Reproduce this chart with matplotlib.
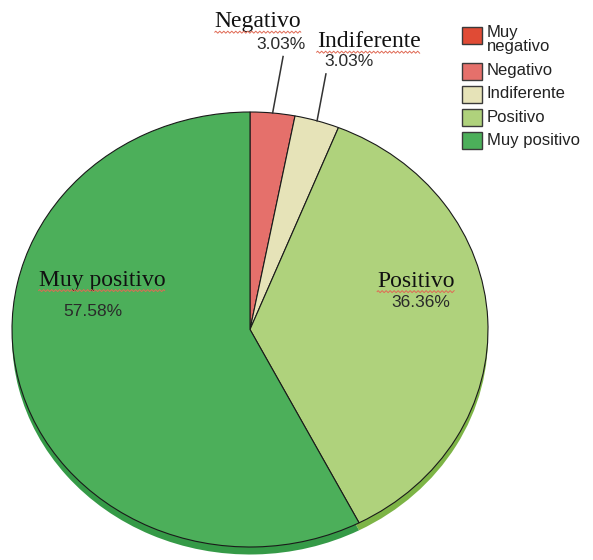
import numpy as np
import matplotlib
matplotlib.use("Agg")
import matplotlib.pyplot as plt
from matplotlib.patches import Rectangle
from matplotlib.transforms import Affine2D

# ---- data ----
categories = ["Muy negativo", "Negativo", "Indiferente", "Positivo", "Muy positivo"]
legend_labels = ["Muy\nnegativo", "Negativo", "Indiferente", "Positivo", "Muy positivo"]
counts = [0, 1, 1, 12, 19]
pct_labels = ["0.00%", "3.03%", "3.03%", "36.36%", "57.58%"]

# ---- styles ----
colors = ['#E04B35', '#E5706B', '#E6E3B8', '#AFD27C', '#4CAF5A']
side_colors = ['#B03A28', '#B85752', '#B9B690', '#7DB446', '#359A47']

W, H = 593, 560
fig = plt.figure(figsize=(W / 100, H / 100), dpi=100)
cx, cy, rx, ry = 250, 329.5, 238, 217.5
ax = fig.add_axes([(cx - rx) / W, (H - cy - ry) / H, 2 * rx / W, 2 * ry / H])
depth = 7.5 / ry

side, _ = ax.pie(counts, colors=side_colors, startangle=90, counterclock=False,
                 center=(0, -depth), wedgeprops=dict(linewidth=0))
wedges, _ = ax.pie(counts, colors=colors, startangle=90, counterclock=False,
                   wedgeprops=dict(edgecolor='#1a1a1a', linewidth=0.8))
for w in side + wedges:
    w.set_clip_on(False)
ax.set_aspect('auto')
ax.set_xlim(-1, 1)
ax.set_ylim(-1, 1)
ax.axis('off')

# label layout (data coords): name (x, baseline y), pct (x, center y), leader end
name_pos = {1: (0.034, 1.39), 2: (0.498, 1.298), 3: (0.697, 0.197), 4: (-0.622, 0.202)}
pct_pos = {1: (0.13, 1.31), 2: (0.416, 1.232), 3: (0.716, 0.124), 4: (-0.662, 0.083)}
leader_end = {1: (0.139, 1.255), 2: (0.319, 1.175)}

serif = ['Liberation Serif', 'DejaVu Serif']
sans = ['Liberation Sans', 'DejaVu Sans']
name_texts = []
for i, w in enumerate(wedges):
    if counts[i] == 0:
        continue
    nx, ny = name_pos[i]
    t = ax.text(nx, ny, categories[i], ha='center', va='baseline', fontsize=17,
                family=serif, color='#111111', clip_on=False)
    name_texts.append(t)
    px, py = pct_pos[i]
    ax.text(px, py, pct_labels[i], ha='center', va='center', fontsize=12.5,
            family=sans, color='#2a2a2a', clip_on=False)
    if i in leader_end:
        mid = np.deg2rad((w.theta1 + w.theta2) / 2)
        ex, ey = leader_end[i]
        ax.plot([np.cos(mid), ex], [np.sin(mid), ey], color='#333333', lw=1.1,
                clip_on=False, zorder=5)

# ---- legend (pixel layout) ----
pix = Affine2D().scale(1 / W, -1 / H).translate(0, 1) + fig.transFigure
row_centers = [35.5, 71, 94, 117, 140]
for i, lab in enumerate(legend_labels):
    yc = row_centers[i]
    fig.patches.append(Rectangle((462, yc - 8.5), 20, 17, transform=pix,
                                 facecolor=colors[i], edgecolor='#3a3a3a', lw=1))
    if '\n' in lab:
        fig.text(487, yc - 10.5, lab, transform=pix, ha='left', va='top',
                 fontsize=12, family=sans, color='#222222', linespacing=0.95)
    else:
        fig.text(487, yc, lab, transform=pix, ha='left', va='center',
                 fontsize=12, family=sans, color='#222222')

# spell-check style wavy underlines below the serif labels
fig.canvas.draw()
renderer = fig.canvas.get_renderer()
for t in name_texts:
    bb = t.get_window_extent(renderer)
    base_disp = ax.transData.transform(t.get_position())[1]
    xs = np.arange(bb.x0, bb.x1 + 0.1, 1.0)
    ys = base_disp - 5 + 1.0 * np.sin((xs - bb.x0) * np.pi / 2)
    fig.lines.append(plt.Line2D(xs / W, ys / H, transform=fig.transFigure,
                                color='#e06a55', lw=0.7))

fig.savefig('out.png', dpi=100)
